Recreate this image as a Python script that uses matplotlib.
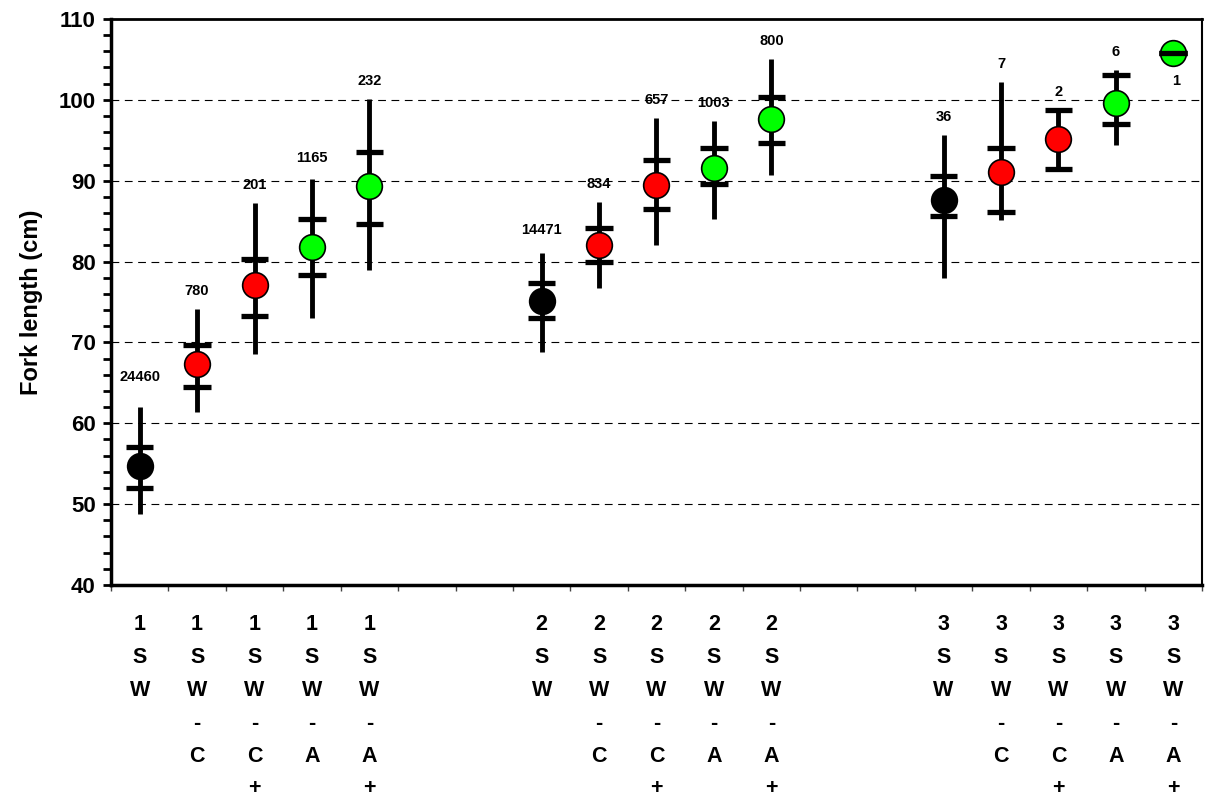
import matplotlib
matplotlib.use("Agg")
import matplotlib.pyplot as plt
from matplotlib.ticker import MultipleLocator

plt.rcParams['font.family'] = ['Liberation Sans', 'DejaVu Sans']
plt.rcParams['font.weight'] = 'bold'

# sea-winter class and category, one entry per plotted column
groups = ['1', '1', '1', '1', '1', '2', '2', '2', '2', '2', '3', '3', '3', '3', '3']
cats = ['', 'C', 'C+', 'A', 'A+'] * 3
slots = [0, 1, 2, 3, 4, 7, 8, 9, 10, 11, 14, 15, 16, 17, 18]

mean = [54.7, 67.3, 77.1, 81.8, 89.4, 75.1, 82.0, 89.5, 91.6, 97.6, 87.6, 91.1, 95.1, 99.6, 105.8]
sd_hi = [57.1, 69.7, 80.3, 85.3, 93.6, 77.4, 84.1, 92.6, 94.1, 100.3, 90.6, 94.1, 98.7, 103.1, 105.8]
sd_lo = [52.0, 64.5, 73.3, 78.3, 84.7, 73.0, 79.9, 86.5, 89.6, 94.7, 85.6, 86.1, 91.5, 97.0, 105.8]
fl_max = [62.0, 74.1, 87.2, 90.2, 100.1, 81.0, 87.4, 97.7, 97.4, 105.1, 95.7, 102.2, 98.7, 103.7, 105.8]
fl_min = [48.8, 61.4, 68.6, 73.0, 79.0, 68.8, 76.7, 82.0, 85.3, 90.7, 78.0, 85.1, 91.5, 94.4, 105.8]
n_fish = [24460, 780, 201, 1165, 232, 14471, 834, 657, 1003, 800, 36, 7, 2, 6, 1]

cat_colour = {'': 'black', 'C': '#ff0000', 'C+': '#ff0000', 'A': '#00ff00', 'A+': '#00ff00'}

fig = plt.figure(figsize=(12.05, 7.97), dpi=100)
ax = fig.add_axes([0.0921, 0.266, 0.9054, 0.7102])

xs = [s + 0.5 for s in slots]

for y in range(50, 110, 10):
    ax.axhline(y, color='black', lw=0.8, ls=(0, (7, 5)), zorder=0)

ax.vlines(xs, fl_min, fl_max, color='black', lw=3.5, zorder=2)
ax.hlines(sd_hi, [x - 0.24 for x in xs], [x + 0.24 for x in xs], color='black', lw=3.8, zorder=2)
ax.hlines(sd_lo, [x - 0.24 for x in xs], [x + 0.24 for x in xs], color='black', lw=3.8, zorder=2)

for x, m, c in zip(xs, mean, cats):
    ax.plot(x, m, 'o', ms=18.5, mfc=cat_colour[c], mec='black', mew=1.2, zorder=3)
# the single-fish point has its bar drawn across the marker
ax.hlines(sd_hi[-1:], xs[-1] - 0.24, xs[-1] + 0.24, color='black', lw=3.8, zorder=4)

# sample sizes above each whisker
label_off = {0: 22, 3: 15, 5: 17}
for i, (x, top, n) in enumerate(zip(xs, fl_max, n_fish)):
    if n == 1:
        ax.annotate(str(n), (x, mean[i]), xytext=(2, -20), textcoords='offset points',
                    ha='center', va='center', fontsize=10.5, fontweight='bold')
    else:
        ax.annotate(str(n), (x, top), xytext=(0, label_off.get(i, 13)), textcoords='offset points',
                    ha='center', va='center', fontsize=10.5, fontweight='bold')

# stacked category labels under the axis
for x, g, c in zip(xs, groups, cats):
    txt = g + '\nS\nW'
    if c:
        txt += '\n-\n' + c[0]
        if c.endswith('+'):
            txt += '\n+'
    ax.annotate(txt, (x, 0), xycoords=('data', 'axes fraction'), xytext=(0, -21),
                textcoords='offset points', ha='center', va='top', fontsize=15.5,
                fontweight='bold', linespacing=1.74, annotation_clip=False)

ax.set_xlim(0, 19)
ax.set_ylim(40, 110)
ax.set_xticks(range(20))
ax.set_xticklabels([])
ax.tick_params(axis='x', direction='out', length=4, width=1, color='#444444')
ax.yaxis.set_major_locator(MultipleLocator(10))
ax.yaxis.set_minor_locator(MultipleLocator(2))
ax.tick_params(axis='y', which='both', direction='out', length=6, width=2, labelsize=16, pad=5)
for lab in ax.get_yticklabels():
    lab.set_fontweight('bold')
ax.set_ylabel('Fork length (cm)', fontsize=17, fontweight='bold', labelpad=11)

ax.spines['left'].set_linewidth(2.5)
ax.spines['bottom'].set_linewidth(2.5)
ax.spines['top'].set_linewidth(2)
ax.spines['right'].set_linewidth(1.5)

fig.savefig('out.png', dpi=100)
